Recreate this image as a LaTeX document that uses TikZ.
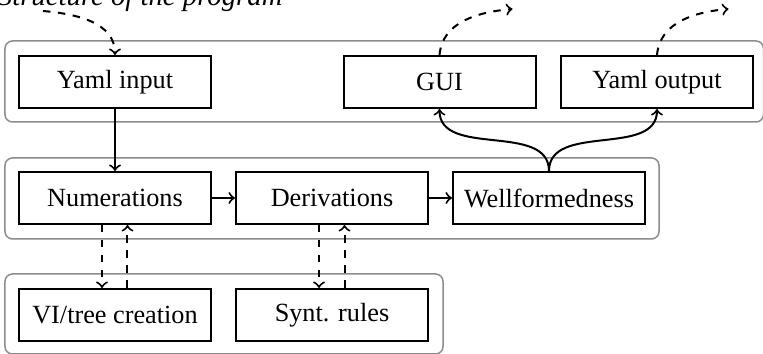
\documentclass[tikz,border=0pt]{standalone}
\usepackage{fontspec}
\setmainfont{Liberation Serif}
\usetikzlibrary{arrows, backgrounds, calc}
\tikzstyle{block} = [rectangle, minimum width=76.8pt, minimum height=20.8pt, text centered, draw=black, thick, font=\fontsize{10.5}{12}\selectfont]
\tikzstyle{group} = [draw=black!45, line width=0.6pt, rounded corners=3pt]
\tikzstyle{edge} = [thick, ->]
\tikzstyle{dashedge} = [thick, dashed, ->]

\begin{document}
\begin{tikzpicture}[node distance=86.8pt]
\useasboundingbox (-46pt,79.2pt) rectangle (259.2pt,-62.4pt);

\node (num) [block] {Numerations};
\node (deriv) [block, right of=num] {Derivations};
\node (wf) [block, right of=deriv] {Wellformedness};
\node (yin) [block, node distance=46.4pt, above of=num] {Yaml input};
\node (gui) [block, node distance=46.4pt, above of=wf, xshift=-43.8pt] {GUI};
\node (yout) [block, node distance=46.4pt, above of=wf, xshift=43.2pt] {Yaml output};
\node (vi) [block, node distance=46.8pt, below of=num] {VI/tree creation};
\node (synt) [block, node distance=46.8pt, below of=deriv] {Synt. rules};

\node (title) [anchor=base east, inner sep=0pt, font=\fontsize{11.5}{14}\selectfont\itshape] at ($(yin.north)+(67.2pt,19.8pt)$) {Structure of the program};

\coordinate (inp) at ($(yin.north)+(-28.8pt,17.6pt)$);
\coordinate (guiout) at ($(gui.north)+(29.2pt,18.4pt)$);
\coordinate (youtout) at ($(yout.north)+(28.6pt,18.4pt)$);

\begin{scope}[on background layer]
\draw [group] ($(yin.north west)+(-5.2pt,5.6pt)$) rectangle ($(yout.south east)+(3.8pt,-5.2pt)$);
\draw [group] ($(num.north west)+(-5.2pt,5.2pt)$) rectangle ($(wf.south east)+(5.2pt,-5.6pt)$);
\draw [group] ($(vi.north west)+(-5.2pt,5.6pt)$) rectangle ($(synt.south east)+(5.6pt,-4.8pt)$);
\end{scope}

\draw [edge] (yin) -- (num);
\draw [edge] (num) -- (deriv);
\draw [edge] (deriv) -- (wf);
\draw [edge] (wf.north) to[out=90, in=-90] (gui.south);
\draw [edge] (wf.north) to[out=90, in=-90] (yout.south);
\draw [dashedge] ([xshift=-5.2pt]num.south) -- ([xshift=-5.2pt]vi.north);
\draw [dashedge] ([xshift=5pt]vi.north) -- ([xshift=5pt]num.south);
\draw [dashedge] ([xshift=-5.2pt]deriv.south) -- ([xshift=-5.2pt]synt.north);
\draw [dashedge] ([xshift=5pt]synt.north) -- ([xshift=5pt]deriv.south);
\draw [dashedge] (inp) to[out=-5, in=90] (yin.north);
\draw [dashedge] (gui.north) to[out=85, in=185] (guiout);
\draw [dashedge] (yout.north) to[out=85, in=185] (youtout);

\end{tikzpicture}
\end{document}
